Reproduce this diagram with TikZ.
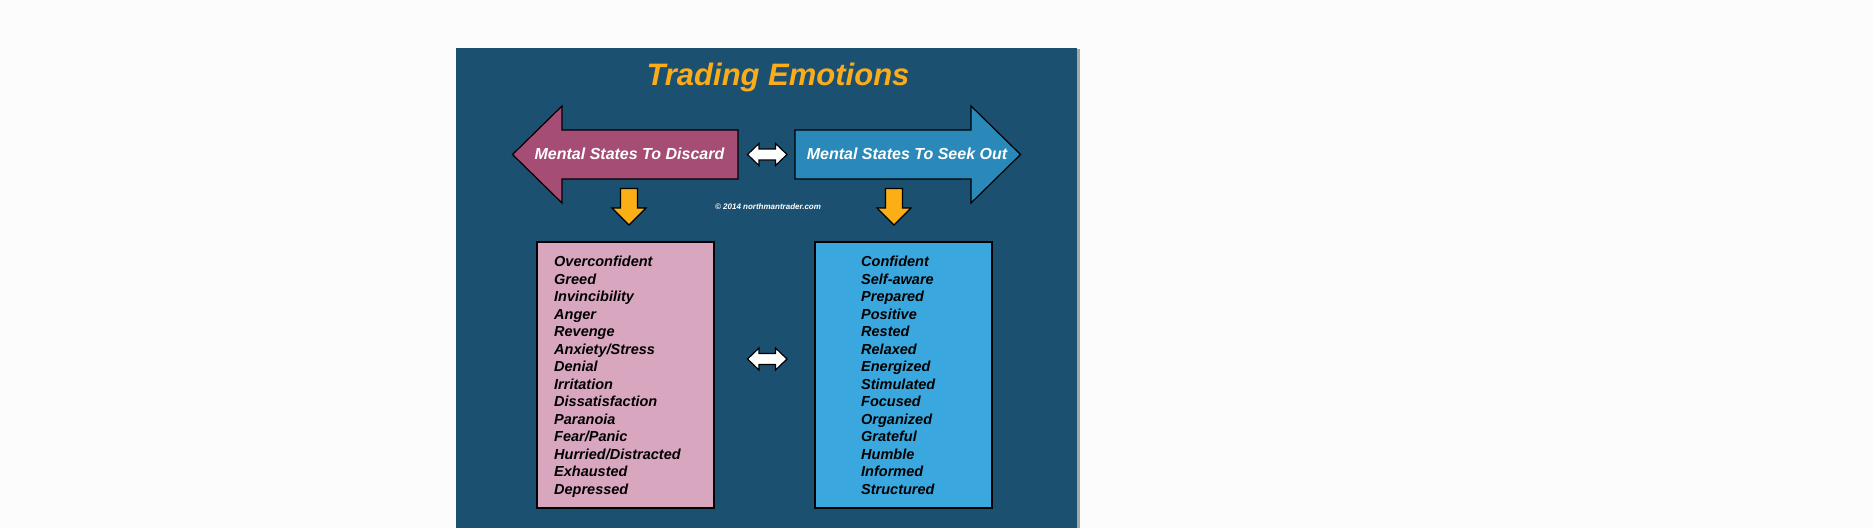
\documentclass[tikz,border=0pt]{standalone}
\usepackage{fontspec}
\setmainfont{Liberation Sans}
\usetikzlibrary{positioning}

\definecolor{pagegray}{RGB}{252,252,252}
\definecolor{panelblue}{RGB}{28,80,112}
\definecolor{titleorange}{RGB}{251,172,24}
\definecolor{discardred}{RGB}{165,77,117}
\definecolor{seekblue}{RGB}{42,137,184}
\definecolor{pinkbox}{RGB}{217,166,192}
\definecolor{bluebox}{RGB}{58,168,222}
\definecolor{arroworange}{RGB}{252,174,23}

\begin{document}
\begin{tikzpicture}[x=1pt, y=-1pt,
    every node/.style={inner sep=0pt, font=\bfseries\itshape},
    outline/.style={draw=black, line width=1.2pt, line join=miter},
    listbox/.style={outline, minimum width=177pt, minimum height=266pt},
    listtxt/.style={anchor=base west, font=\fontsize{14.5}{17.5}\selectfont\bfseries\itshape}]
      % Sfondo
      \fill[pagegray] (0,0) rectangle (1873,528);
      \useasboundingbox (0,0) rectangle (1873,528);
      \fill[gray!70] (1076.5,49) rectangle (1079.5,528);
      \fill[panelblue] (456,47.5) rectangle (1077,528);

      % Titolo
      \node[text=titleorange, font=\fontsize{31}{36}\selectfont\bfseries\itshape, anchor=base] (title) at (778,85) {Trading Emotions};

      % Frecce grandi
      \draw[outline, fill=discardred] (738,130) -- (562,130) -- (562,106) -- (512.5,154.5) -- (562,203) -- (562,179) -- (738,179) -- cycle;
      \draw[outline, fill=seekblue] (795,130) -- (971,130) -- (971,106) -- (1020.5,154.5) -- (971,203) -- (971,179) -- (795,179) -- cycle;
      \node[text=white, font=\fontsize{16}{19}\selectfont\bfseries\itshape, anchor=base] (discard) at (629.5,159.5) {Mental States To Discard};
      \node[text=white, font=\fontsize{16}{19}\selectfont\bfseries\itshape, anchor=base] (seek) at (907,159.5) {Mental States To Seek Out};

      % Frecce doppie
      \foreach \cy in {154.5,359}
        \draw[outline, fill=white] (747.5,\cy) -- (759,\cy-11) -- (759,\cy-5.5) -- (775.5,\cy-5.5) -- (775.5,\cy-11) -- (787,\cy)
          -- (775.5,\cy+11) -- (775.5,\cy+5.5) -- (759,\cy+5.5) -- (759,\cy+11) -- cycle;

      % Frecce in basso
      \foreach \cx in {629,894}
        \draw[outline, fill=arroworange] (\cx-8.5,188.5) -- (\cx+8.5,188.5) -- (\cx+8.5,208) -- (\cx+17,208) -- (\cx,225)
          -- (\cx-17,208) -- (\cx-8.5,208) -- cycle;

      \node[text=white, font=\fontsize{8}{10}\selectfont\bfseries\itshape, anchor=base] (copy) at (768,209) {\textcopyright{} 2014 northmantrader.com};

      % Riquadri
      \node[listbox, fill=pinkbox] (discardbox) at (625.5,375) {};
      \node[listbox, fill=bluebox] (seekbox) at (903.5,375) {};

      \foreach \t [count=\i] in {Overconfident, Greed, Invincibility, Anger, Revenge, Anxiety/Stress, Denial, Irritation,
          Dissatisfaction, Paranoia, Fear/Panic, Hurried/Distracted, Exhausted, Depressed}
        \node[listtxt] (d\i) at (554,{266.7+17.5*(\i-1)}) {\t};

      \foreach \t [count=\i] in {Confident, Self-aware, Prepared, Positive, Rested, Relaxed, Energized, Stimulated,
          Focused, Organized, Grateful, Humble, Informed, Structured}
        \node[listtxt] (s\i) at (861,{266.7+17.5*(\i-1)}) {\t};
    \end{tikzpicture}
\end{document}
